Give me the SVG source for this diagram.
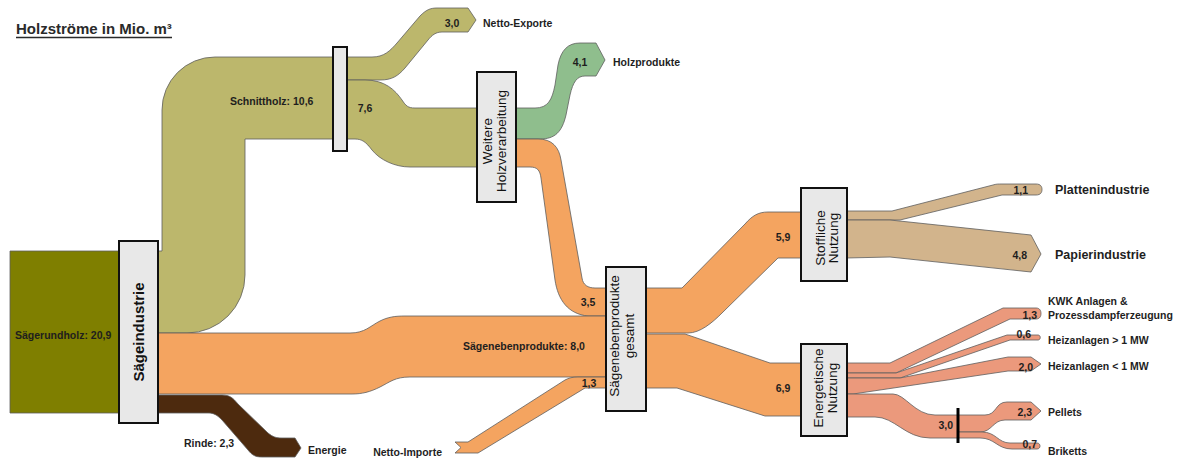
<svg xmlns="http://www.w3.org/2000/svg" width="1180" height="459" viewBox="0 0 1180 459">
<style>
.f{stroke:#5e5e5e;stroke-width:0.8;stroke-linejoin:round}
.olive{fill:#bcb76c}
.orange{fill:#f4a460}
.green{fill:#8fbe8d}
.tan{fill:#d2b48c}
.salmon{fill:#eb997c}
.brown{fill:#4d2a0e}
.box{fill:#e8e8e8;stroke:#111;stroke-width:2}
.lb{font-family:"Liberation Sans",Arial,sans-serif;font-weight:bold;font-size:10.5px;fill:#1e1e1e}
.lbm{font-family:"Liberation Sans",Arial,sans-serif;font-weight:bold;font-size:10.5px;fill:#1e1e1e;text-anchor:middle}
.lbe{font-family:"Liberation Sans",Arial,sans-serif;font-weight:bold;font-size:10.5px;fill:#1e1e1e;text-anchor:end}
.big{font-family:"Liberation Sans",Arial,sans-serif;font-weight:bold;font-size:12.5px;fill:#1e1e1e}
.bx{font-family:"Liberation Sans",Arial,sans-serif;font-size:13.5px;fill:#111;text-anchor:middle}
</style>
<rect width="1180" height="459" fill="#ffffff"/>
<g id="title">
<text x="16" y="34" font-family="Liberation Sans, Arial, sans-serif" font-weight="bold" font-size="15" fill="#2a2a2a">Holzströme in Mio. m³</text>
<line x1="16" y1="37.5" x2="172" y2="37.5" stroke="#2a2a2a" stroke-width="1.3"/>
</g>
<g id="connectors">
<!-- Sägerundholz -->
<rect class="f" x="10" y="251" width="110" height="162" fill="#7f7f00"/>
<!-- Schnittholz -->
<path class="f olive" d="M158,251 L162,251 L162,110 A53,53 0 0 1 215,57 L340,57 L340,139 L245,139 L245,275 A58,58 0 0 1 187,333 L158,333 Z"/>
<!-- Netto-Exporte 3,0 -->
<path class="f olive" d="M340,57 L372,57 C384,57 390,51 397,43 L420,16 C426,10 430,8 437,8 L468,8 L476,20 L468,32 L442,32 C436,32 432,35 428,40 L405,68 C398,76 392,80 380,80 L340,80 Z"/>
<!-- 7,6 -->
<path class="f olive" d="M340,80 L365,80 C385,80 395,90 402,100 C406,106 408,108 415,108 L478,108 L478,167 L410,167 C395,167 380,160 372,150 C366,142 362,139 355,139 L340,139 Z"/>
<!-- Holzprodukte 4,1 -->
<path class="f green" d="M515,108 L535,108 C548,108 552,100 555,85 L558,65 C561,50 568,43 580,43 L596,43 L605,60 L596,76 L585,76 C577,76 573,82 570,95 L566,115 C562,132 555,139 540,139 L515,139 Z"/>
<!-- 3,5 -->
<path class="f orange" d="M515,139 L538,139 C552,139 559,147 561,160 L582,278 C583,285 588,288 595,288 L607,288 L607,316 L588,316 C568,314 558,300 555,280 L541,178 C540,170 537,167 530,167 L515,167 Z"/>
<!-- Sägenebenprodukte 8,0 -->
<path class="f orange" d="M158,333 L350,333 C365,333 370,326 380,321 C388,317 395,316 405,316 L607,316 L607,377 L410,377 C395,377 390,382 380,387 C370,392 362,394 352,394 L158,394 Z"/>
<!-- Netto-Importe 1,3 -->
<path class="f orange" d="M455,442 L468,442 L565,380 C569,378 572,377 578,377 L607,377 L607,388 L585,388 L478,453 L455,453 L461,447.5 Z"/>
<!-- Rinde 2,3 -->
<path class="f brown" d="M158,395 L222,395 C230,395 233,398 238,404 L268,433 C273,437 276,438 282,438 L295,438 L301,448 L295,457 L262,457 C255,457 252,455 248,450 L222,420 C217,415 214,413 208,413 L158,413 Z"/>
<!-- 5,9 -->
<path class="f orange" d="M645,288 L682,288 L745,224 C752,216 758,212 768,212 L802,212 L802,258 L778,258 L722,313 C712,323 700,333 688,333 L645,333 Z"/>
<!-- 6,9 -->
<path class="f orange" d="M645,334 L685,334 L770,363 L802,363 L802,416 L765,416 L677,388 L645,388 Z"/>
<!-- 1,1 Plattenindustrie -->
<path class="f tan" d="M846,211 L892,211 L993,185 C996,184 998,184 1002,184 L1036,184 C1041,184 1042,187 1042,189.5 C1042,192 1041,195 1036,195 L1002,195 L900,220 L846,220 Z"/>
<!-- 4,8 Papierindustrie -->
<path class="f tan" d="M846,220 L890,220 L1031,235 L1041,254 L1031,272 L890,257 L846,258 Z"/>
<!-- 1,3 KWK -->
<path class="f salmon" d="M846,363 L890,363 L1003,308 L1036,308 C1040,308 1041,311 1041,313.5 C1041,316 1040,319 1036,319 L1010,319 L896,373 L846,373 Z"/>
<!-- 0,6 -->
<path class="f salmon" d="M846,373 L896,373 L1007,335 L1038,335 C1041,335 1041,340 1038,340 L1010,340 L900,378 L846,378 Z"/>
<!-- 2,0 -->
<path class="f salmon" d="M846,378 L900,378 L1008,357 L1031,357 L1041,364 L1031,371 L1008,371 L853,394 L846,394 Z"/>
<!-- 3,0 -->
<path class="f salmon" d="M846,394 L893,394 C905,394 915,415 935,415 L958,415 L958,438 L930,438 C905,438 895,417 875,417 L846,417 Z"/>
<!-- Pellets 2,3 -->
<path class="f salmon" d="M958,415 L985,415 C997,415 995,402 1007,402 L1031,402 L1041,411 L1031,420 L1005,420 C993,420 992,432 980,432 L958,432 Z"/>
<!-- Briketts 0,7 -->
<path class="f salmon" d="M958,432 L982,432 C996,432 998,443 1010,443 L1037,443 C1041,443 1041,449 1037,449 L1012,449 C997,449 995,438 980,438 L958,438 Z"/>
<line x1="958" y1="408" x2="958" y2="443" stroke="#000" stroke-width="3"/>
</g>
<g id="flow-labels">
<text class="lb" x="15" y="339">Sägerundholz: 20,9</text>
<text class="lb" x="230" y="104.5">Schnittholz: 10,6</text>
<text class="lbm" x="365" y="112">7,6</text>
<text class="lbm" x="452" y="26.5">3,0</text>
<text class="lb" x="483" y="26.5">Netto-Exporte</text>
<text class="lbm" x="580" y="66">4,1</text>
<text class="lb" x="613" y="66">Holzprodukte</text>
<text class="lbm" x="588" y="306">3,5</text>
<text class="lb" x="463" y="350">Sägenebenprodukte: 8,0</text>
<text class="lbm" x="589" y="387">1,3</text>
<text class="lbe" x="442" y="456">Netto-Importe</text>
<text class="lb" x="184" y="447">Rinde: 2,3</text>
<text class="lb" x="308" y="454">Energie</text>
<text class="lbm" x="783" y="241">5,9</text>
<text class="lbm" x="783" y="392">6,9</text>
<text class="lbe" x="1028" y="194">1,1</text>
<text class="lbe" x="1027" y="259">4,8</text>
<text class="big" x="1055" y="194">Plattenindustrie</text>
<text class="big" x="1055" y="258.5">Papierindustrie</text>
<text class="lbe" x="1037" y="319">1,3</text>
<text class="lbe" x="1031" y="338">0,6</text>
<text class="lbe" x="1033" y="371">2,0</text>
<text class="lbe" x="953" y="429">3,0</text>
<text class="lbe" x="1032" y="416">2,3</text>
<text class="lbe" x="1037" y="448">0,7</text>
<text class="lb" x="1048" y="305">KWK Anlagen &amp;</text>
<text class="lb" x="1048" y="319">Prozessdampferzeugung</text>
<text class="lb" x="1048" y="344">Heizanlagen &gt; 1 MW</text>
<text class="lb" x="1048" y="370">Heizanlagen &lt; 1 MW</text>
<text class="lb" x="1048" y="416">Pellets</text>
<text class="lb" x="1048" y="455">Briketts</text>
</g>
<g id="node-saegeindustrie">
<rect class="box" x="119" y="241" width="39" height="182"/>
<text transform="translate(138.5,332) rotate(-90)" y="5" font-family="Liberation Sans, Arial, sans-serif" font-weight="bold" font-size="15" fill="#111" text-anchor="middle">Sägeindustrie</text>
</g>
<g id="node-schnittholz">
<rect class="box" x="333" y="47" width="14" height="104"/>
</g>
<g id="node-weitere">
<rect class="box" x="477" y="72" width="39" height="130"/>
<text class="bx" transform="translate(496.5,141) rotate(-90)"><tspan x="0" y="-5">Weitere</tspan><tspan x="0" y="9.5">Holzverarbeitung</tspan></text>
</g>
<g id="node-saegenebenprodukte">
<rect class="box" x="606" y="267" width="40" height="144"/>
<text class="bx" transform="translate(626,336) rotate(-90)"><tspan x="0" y="-7">Sägenebenprodukte</tspan><tspan x="0" y="8">gesamt</tspan></text>
</g>
<g id="node-stoffliche">
<rect class="box" x="801" y="188" width="46" height="93"/>
<text class="bx" transform="translate(824,238) rotate(-90)"><tspan x="0" y="0.5">Stoffliche</tspan><tspan x="0" y="13.5">Nutzung</tspan></text>
</g>
<g id="node-energetische">
<rect class="box" x="801" y="344" width="46" height="92"/>
<text class="bx" transform="translate(824,388) rotate(-90)"><tspan x="0" y="-1.5">Energetische</tspan><tspan x="0" y="12.5">Nutzung</tspan></text>
</g>
</svg>
